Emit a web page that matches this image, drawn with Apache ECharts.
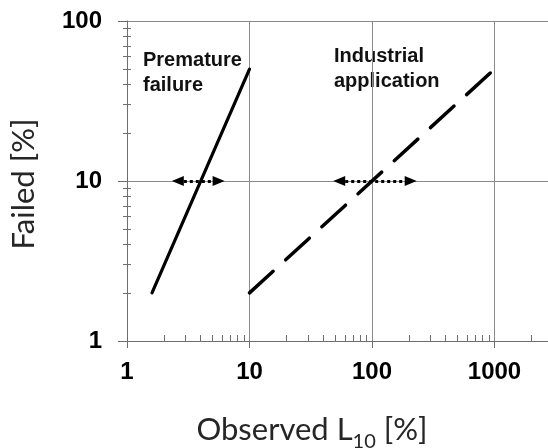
<!DOCTYPE html>
<html>
<head>
<meta charset="utf-8">
<script src="https://cdn.jsdelivr.net/npm/echarts@6/dist/echarts.min.js"></script>
<style>
html,body{margin:0;padding:0;background:#fff;}
#chart{width:548px;height:448px;}
</style>
</head>
<body>
<div id="chart"></div>
<script>
// ---- data ----
const xTickLabels = [1, 10, 100, 1000];
const yTickLabels = [1, 10, 100];
const xMinorTicks = [2,3,4,5,6,7,8,9,20,30,40,50,60,70,80,90,200,300,400,500,600,700,800,900,2000];
const yMinorTicks = [2,3,4,5,6,7,8,9,20,30,40,50,60,70,80,90];
const xRange = [1, 2735];
const yRange = [1, 100];
const prematureLine = [[1.6, 2], [10, 50]];
const industrialLine = [[10, 2], [1000, 50]];
const prematureArrow = [2.6, 5.6];
const industrialArrow = [54, 207];
const arrowLevel = 10;
const prematureText = 'Premature\nfailure';
const industrialText = 'Industrial\napplication';
const xTitle = ['Observed L', '10', ' [%]'];
const yTitle = 'Failed [%]';

const chart = echarts.init(document.getElementById('chart'), null, {renderer: 'canvas'});
const gridColor = '#8a8a8a';
const axisColor = '#6e6e6e';
const labelFont = 'Liberation Sans, Arial, sans-serif';
const fmt = v => String(Math.round(v));

function arrowMark(range) {
  return {
    silent: true,
    symbol: ['triangle', 'triangle'],
    symbolSize: [10, 12],
    label: {show: false},
    emphasis: {disabled: true},
    lineStyle: {color: '#000', width: 3, type: [3, 3]},
    data: [[{coord: [range[0], arrowLevel]}, {coord: [range[1], arrowLevel]}]]
  };
}

const option = {
  animation: false,
  backgroundColor: '#fff',
  grid: {left: 127, top: 21, right: 0, height: 320, containLabel: false},
  xAxis: [
    {
      type: 'log', logBase: 10, min: xRange[0], max: xRange[1], gridIndex: 0,
      axisLine: {show: true, lineStyle: {color: axisColor, width: 1}},
      axisTick: {show: true, inside: false, length: 7, customValues: xTickLabels, lineStyle: {color: axisColor}},
      axisLabel: {show: true, margin: 19, fontSize: 24, fontWeight: 'bold', color: '#000', fontFamily: labelFont, formatter: fmt, customValues: xTickLabels},
      splitLine: {show: true, lineStyle: {color: gridColor, width: 1}},
      minorTick: {show: false}
    },
    {
      type: 'log', logBase: 10, min: xRange[0], max: xRange[1], gridIndex: 0, position: 'bottom',
      axisLine: {show: false},
      axisTick: {show: true, inside: true, length: 6, customValues: xMinorTicks, lineStyle: {color: axisColor}},
      axisLabel: {show: false},
      splitLine: {show: false}
    }
  ],
  yAxis: [
    {
      type: 'log', logBase: 10, min: yRange[0], max: yRange[1], gridIndex: 0,
      axisLine: {show: true, lineStyle: {color: axisColor, width: 1}},
      axisTick: {show: true, inside: false, length: 9, customValues: yTickLabels, lineStyle: {color: axisColor}},
      axisLabel: {show: true, margin: 25, fontSize: 24, fontWeight: 'bold', color: '#000', fontFamily: labelFont, formatter: fmt, customValues: yTickLabels},
      splitLine: {show: true, lineStyle: {color: gridColor, width: 1}}
    },
    {
      type: 'log', logBase: 10, min: yRange[0], max: yRange[1], gridIndex: 0, position: 'left', offset: -4,
      axisLine: {show: false},
      axisTick: {show: true, inside: false, length: 8, customValues: yMinorTicks, lineStyle: {color: axisColor}},
      axisLabel: {show: false},
      splitLine: {show: false}
    }
  ],
  series: [
    {
      name: 'Premature failure', type: 'line', xAxisIndex: 0, yAxisIndex: 0,
      data: prematureLine, showSymbol: false, symbol: 'none', silent: true,
      lineStyle: {color: '#000', width: 3.2, type: 'solid', cap: 'round'},
      markLine: arrowMark(prematureArrow)
    },
    {
      name: 'Industrial application', type: 'line', xAxisIndex: 0, yAxisIndex: 0,
      data: industrialLine, showSymbol: false, symbol: 'none', silent: true,
      lineStyle: {color: '#000', width: 3.5, type: [32, 17], cap: 'round'},
      markLine: arrowMark(industrialArrow)
    }
  ],
  graphic: [
    {type: 'text', left: 143, top: 48, silent: true,
     style: {text: prematureText, fontSize: 20, fontWeight: 'bold', fontFamily: labelFont, fill: '#111', lineHeight: 25}},
    {type: 'text', left: 334, top: 44, silent: true,
     style: {text: industrialText, fontSize: 20, fontWeight: 'bold', fontFamily: labelFont, fill: '#111', lineHeight: 25}},
    {type: 'text', x: 312, y: 430, silent: true,
     style: {
       text: '{n|' + xTitle[0] + '}{s|' + xTitle[1] + '}{n|' + xTitle[2] + '}',
       align: 'center', verticalAlign: 'middle',
       rich: {
         n: {fontSize: 31, fontFamily: 'Lato, sans-serif', fill: '#262626'},
         s: {fontSize: 20, fontFamily: 'Lato, sans-serif', fill: '#262626', padding: [24, 0, 0, 0]}
       }
     }},
    {type: 'text', x: 24, y: 184, rotation: Math.PI / 2, silent: true,
     style: {text: yTitle, align: 'center', verticalAlign: 'middle', fontSize: 31, fontFamily: 'Lato, sans-serif', fill: '#262626'}}
  ]
};
chart.setOption(option);
</script>
</body>
</html>
